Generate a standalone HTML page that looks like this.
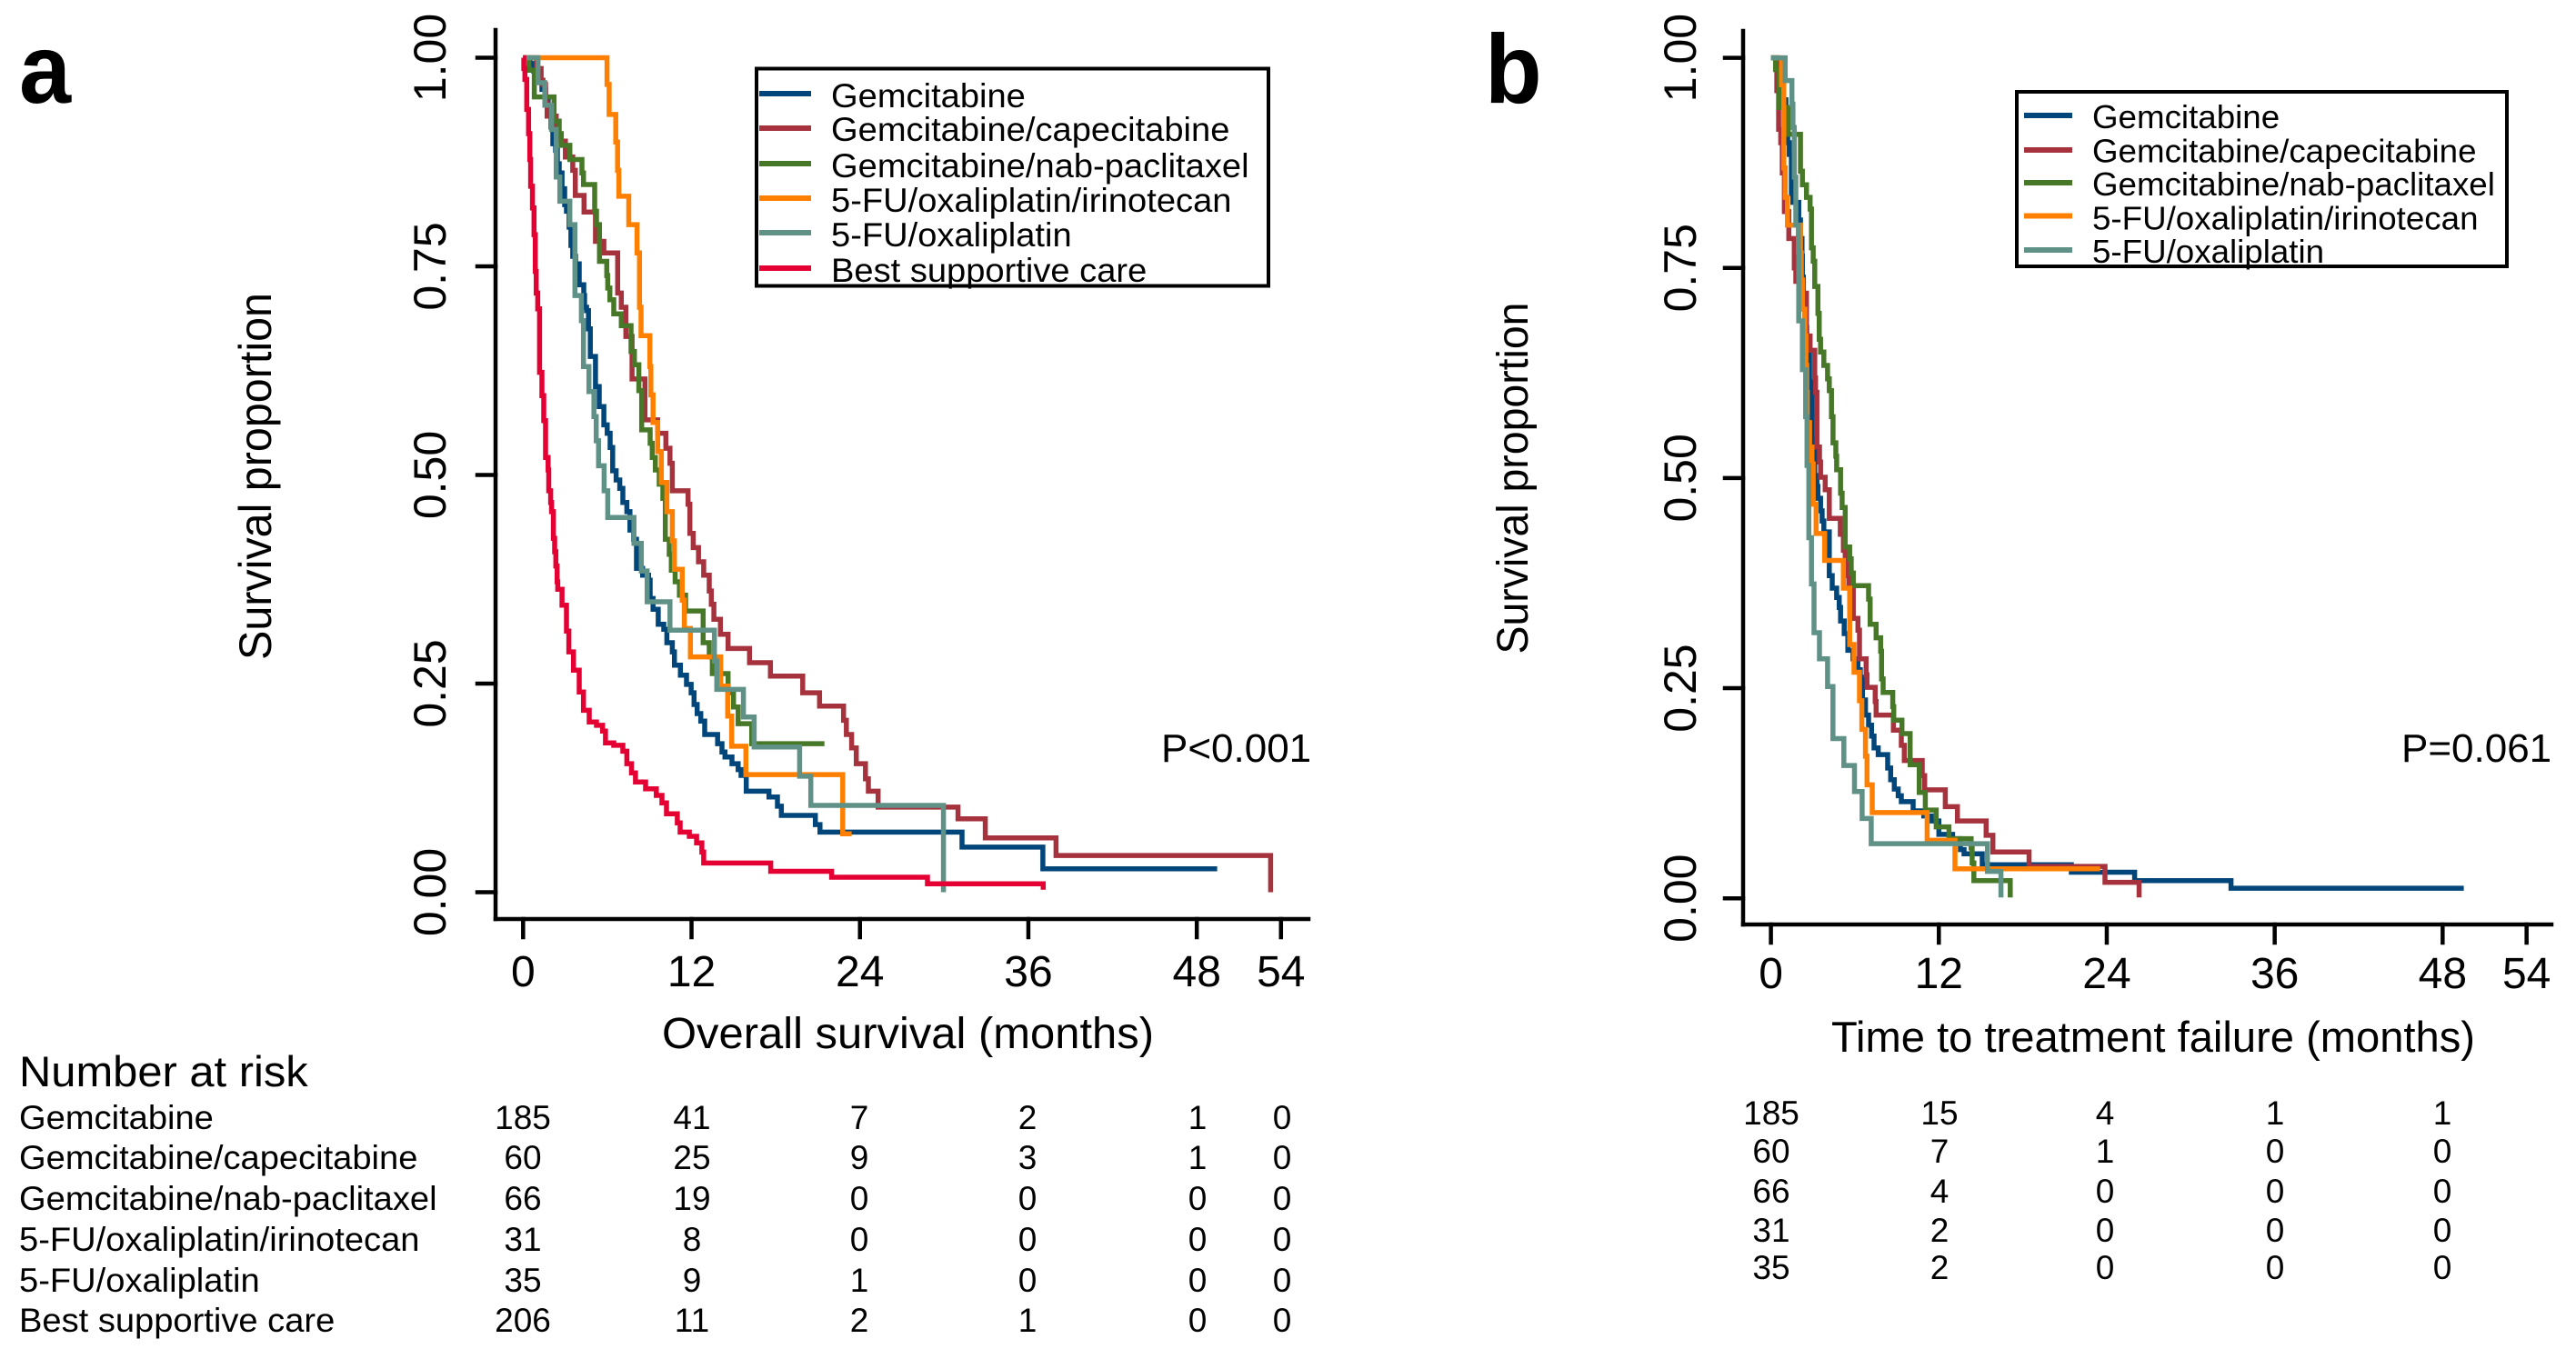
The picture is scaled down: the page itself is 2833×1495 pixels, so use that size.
<!DOCTYPE html>
<html lang="en">
<head>
<meta charset="utf-8">
<title>Kaplan-Meier survival curves</title>
<style>
html,body{margin:0;padding:0;background:#fff;}
svg{display:block;}
text{font-family:"Liberation Sans",Arial,sans-serif;fill:#000;}
</style>
</head>
<body>
<svg id="figure" xmlns="http://www.w3.org/2000/svg" width="2833" height="1495" viewBox="0 0 2833 1495">
  <rect x="0" y="0" width="2833" height="1495" fill="#fff"/>
  <g id="panelA"></g>
  <g id="panelB"></g>

  <text transform="translate(21,113) scale(0.95,1)" font-size="108" font-weight="bold">a</text>
  <text transform="translate(1633,113) scale(0.95,1)" font-size="108" font-weight="bold">b</text>

  <text transform="translate(298,524) rotate(-90)" font-size="50" text-anchor="middle" textLength="404" lengthAdjust="spacingAndGlyphs">Survival proportion</text>
  <text transform="translate(1680,526) rotate(-90)" font-size="48" text-anchor="middle" textLength="387" lengthAdjust="spacingAndGlyphs">Survival proportion</text>
  <text x="728" y="1153" font-size="48" textLength="541" lengthAdjust="spacingAndGlyphs">Overall survival (months)</text>
  <text x="2014" y="1157" font-size="47" textLength="708" lengthAdjust="spacingAndGlyphs">Time to treatment failure (months)</text>
  <text x="1277" y="838" font-size="44">P&lt;0.001</text>
  <text x="2641" y="838" font-size="44">P=0.061</text>

  <g>
    <rect x="832" y="75.5" width="563" height="239" fill="none" stroke="#000" stroke-width="4"/>
    <line x1="835" x2="892" y1="103" y2="103" stroke="#00467a" stroke-width="6"/>
    <line x1="835" x2="892" y1="141" y2="141" stroke="#a5323c" stroke-width="6"/>
    <line x1="835" x2="892" y1="180" y2="180" stroke="#467828" stroke-width="6"/>
    <line x1="835" x2="892" y1="218" y2="218" stroke="#ff8000" stroke-width="6"/>
    <line x1="835" x2="892" y1="256" y2="256" stroke="#5f9187" stroke-width="6"/>
    <line x1="835" x2="892" y1="295" y2="295" stroke="#e40032" stroke-width="6"/>
    <text transform="translate(914,118) scale(1.03,1)" font-size="37">Gemcitabine</text>
    <text transform="translate(914,155) scale(1.03,1)" font-size="37">Gemcitabine/capecitabine</text>
    <text transform="translate(914,195) scale(1.03,1)" font-size="37">Gemcitabine/nab-paclitaxel</text>
    <text transform="translate(914,233) scale(1.03,1)" font-size="37">5-FU/oxaliplatin/irinotecan</text>
    <text transform="translate(914,271) scale(1.03,1)" font-size="37">5-FU/oxaliplatin</text>
    <text transform="translate(914,310) scale(1.03,1)" font-size="37">Best supportive care</text>
  </g>

  <g>
    <rect x="2218" y="101" width="539" height="192" fill="none" stroke="#000" stroke-width="4"/>
    <line x1="2226" x2="2279" y1="127" y2="127" stroke="#00467a" stroke-width="6"/>
    <line x1="2226" x2="2279" y1="165" y2="165" stroke="#a5323c" stroke-width="6"/>
    <line x1="2226" x2="2279" y1="201" y2="201" stroke="#467828" stroke-width="6"/>
    <line x1="2226" x2="2279" y1="237.5" y2="237.5" stroke="#ff8000" stroke-width="6"/>
    <line x1="2226" x2="2279" y1="275" y2="275" stroke="#5f9187" stroke-width="6"/>
    <text transform="translate(2301,141) scale(1.02,1)" font-size="36">Gemcitabine</text>
    <text transform="translate(2301,178.5) scale(1.02,1)" font-size="36">Gemcitabine/capecitabine</text>
    <text transform="translate(2301,215) scale(1.02,1)" font-size="36">Gemcitabine/nab-paclitaxel</text>
    <text transform="translate(2301,252.5) scale(1.02,1)" font-size="36">5-FU/oxaliplatin/irinotecan</text>
    <text transform="translate(2301,289) scale(1.02,1)" font-size="36">5-FU/oxaliplatin</text>
  </g>

  <g>
    <text transform="translate(21,1195) scale(1.04,1)" font-size="47">Number at risk</text>
    <text transform="translate(21,1242) scale(1.03,1)" font-size="37">Gemcitabine</text>
    <text transform="translate(21,1286) scale(1.03,1)" font-size="37">Gemcitabine/capecitabine</text>
    <text transform="translate(21,1331) scale(1.03,1)" font-size="37">Gemcitabine/nab-paclitaxel</text>
    <text transform="translate(21,1376) scale(1.03,1)" font-size="37">5-FU/oxaliplatin/irinotecan</text>
    <text transform="translate(21,1421) scale(1.03,1)" font-size="37">5-FU/oxaliplatin</text>
    <text transform="translate(21,1465) scale(1.03,1)" font-size="37">Best supportive care</text>
  </g>
  <g id="riskA"></g>
  <g id="riskB"></g>
</svg>

<script>
// ---------- axis tick values ----------
const xTicks = [0, 12, 24, 36, 48, 54];
const xTickLabels = ['0', '12', '24', '36', '48', '54'];
const yTicks = [1, 0.75, 0.5, 0.25, 0];
const yTickLabels = ['1.00', '0.75', '0.50', '0.25', '0.00'];

// ---------- panel a: overall survival (months at each drop, survival after the drop) ----------
const gemTimeA = [0.50,0.76,1.08,1.34,1.60,1.79,1.99,2.12,2.31,2.44,2.57,2.77,2.96,3.09,3.28,3.41,3.54,3.74,4.00,4.32,4.38,4.52,4.66,4.79,5.16,5.42,5.75,5.99,6.20,6.38,6.63,6.89,7.11,7.39,7.61,7.88,8.08,8.51,8.94,9.05,9.26,9.63,10.02,10.24,10.63,10.78,11.21,11.64,11.97,12.18,12.40,12.66,12.94,13.86,14.17,14.38,14.88,15.32,15.53,15.90,17.52,18.12,18.40,20.82,21.15,31.27,37.03];
const gemSurvA = [0.993,0.984,0.971,0.962,0.949,0.933,0.917,0.897,0.889,0.873,0.862,0.843,0.824,0.816,0.797,0.775,0.762,0.753,0.728,0.715,0.701,0.697,0.675,0.642,0.606,0.582,0.560,0.550,0.533,0.505,0.494,0.484,0.467,0.456,0.434,0.423,0.388,0.380,0.374,0.352,0.339,0.321,0.315,0.299,0.288,0.272,0.260,0.249,0.239,0.225,0.214,0.205,0.189,0.178,0.168,0.162,0.154,0.147,0.140,0.121,0.114,0.103,0.092,0.081,0.072,0.054,0.028];
const gemEndA = 49.45;

const capTimeA = [0.95,1.28,1.41,1.60,1.71,2.36,2.51,2.70,3.01,3.54,3.72,4.34,5.16,5.75,6.74,7.00,7.32,7.76,8.68,9.59,10.17,10.46,10.63,11.75,11.88,12.12,12.50,12.87,13.26,13.41,13.59,14.06,14.60,16.13,17.62,19.92,21.12,22.83,23.03,23.41,23.74,24.39,24.60,25.29,30.99,32.93,37.97,53.26];
const capSurvA = [0.987,0.973,0.968,0.946,0.930,0.917,0.906,0.900,0.881,0.865,0.835,0.815,0.780,0.766,0.718,0.701,0.666,0.615,0.566,0.550,0.532,0.514,0.481,0.465,0.430,0.413,0.396,0.380,0.361,0.345,0.327,0.309,0.292,0.275,0.259,0.239,0.223,0.206,0.189,0.173,0.154,0.136,0.121,0.102,0.088,0.065,0.044,0];
const capEndA = 53.26;

const nabTimeA = [0.41,0.80,2.20,2.57,2.72,3.33,4.19,4.30,5.10,5.23,5.44,5.96,6.03,6.18,6.46,7.00,7.69,7.93,8.25,8.45,9.05,9.20,9.42,9.70,9.96,10.13,10.41,10.56,10.83,11.14,11.58,12.83,13.26,13.48,14.60,14.99,15.32,16.29];
const nabSurvA = [0.985,0.953,0.924,0.909,0.895,0.878,0.862,0.848,0.816,0.800,0.756,0.739,0.724,0.710,0.693,0.679,0.648,0.632,0.601,0.554,0.538,0.521,0.506,0.489,0.472,0.423,0.405,0.386,0.372,0.356,0.337,0.299,0.282,0.262,0.239,0.222,0.202,0.178];
const nabEndA = 21.47;

const firTimeA = [5.98,6.13,6.60,6.73,6.82,7.53,8.12,8.29,8.40,9.03,9.10,9.26,9.59,9.85,10.24,10.63,10.78,11.34,11.49,11.92,14.08,14.58,14.86,15.87,22.77];
const firSurvA = [0.968,0.932,0.899,0.865,0.834,0.800,0.766,0.701,0.667,0.630,0.596,0.563,0.528,0.491,0.456,0.421,0.387,0.350,0.316,0.282,0.247,0.211,0.175,0.141,0.070];
const firEndA = 23.41;

const foxTimeA = [1.06,1.55,2.03,2.36,2.62,3.33,3.69,4.15,4.30,4.69,5.05,5.21,5.38,5.77,6.03,7.90,8.42,8.84,10.46,13.63,13.80,15.70,16.46,19.70,20.50,29.95];
const foxSurvA = [0.970,0.943,0.914,0.857,0.828,0.800,0.715,0.685,0.630,0.600,0.570,0.541,0.511,0.481,0.449,0.418,0.385,0.348,0.314,0.277,0.243,0.210,0.174,0.139,0.104,0];
const foxEndA = 29.95;

const bscTimeA = [0.05,0.13,0.26,0.39,0.48,0.54,0.67,0.78,0.87,0.93,1.04,1.17,1.34,1.47,1.60,1.78,1.83,1.96,2.03,2.16,2.25,2.33,2.42,2.47,2.77,3.09,3.26,3.59,4.00,4.30,4.71,5.23,5.66,5.87,6.46,7.11,7.39,7.72,8.01,8.73,9.49,9.89,10.22,10.99,11.19,11.84,12.36,12.74,12.87,17.64,21.98,28.81,37.06];
const bscSurvA = [0.987,0.974,0.938,0.909,0.878,0.846,0.820,0.788,0.744,0.718,0.699,0.623,0.595,0.565,0.521,0.506,0.481,0.467,0.456,0.424,0.408,0.391,0.372,0.363,0.344,0.313,0.288,0.266,0.240,0.218,0.204,0.200,0.193,0.179,0.176,0.169,0.154,0.143,0.132,0.124,0.116,0.107,0.094,0.083,0.072,0.067,0.059,0.048,0.035,0.025,0.018,0.010,0.003];
const bscEndA = 37.06;

// ---------- panel b: time to treatment failure ----------
const gemTimeB = [0.48,0.81,1.07,1.20,1.31,1.46,1.57,1.99,2.11,2.22,2.25,2.32,2.43,2.56,2.76,2.87,2.93,3.02,3.13,3.29,3.36,3.55,3.66,3.78,4.17,4.38,4.70,4.88,4.98,5.24,5.50,5.87,6.22,6.39,6.54,6.76,6.98,7.19,7.37,7.67,8.34,8.56,8.82,9.10,9.32,10.16,10.92,11.46,12.00,12.98,13.54,13.80,15.10,21.47,25.99,32.88];
const gemSurvB = [0.977,0.950,0.921,0.899,0.885,0.838,0.828,0.807,0.785,0.764,0.739,0.704,0.679,0.650,0.615,0.598,0.546,0.531,0.503,0.490,0.476,0.461,0.449,0.436,0.384,0.369,0.358,0.346,0.330,0.315,0.295,0.285,0.272,0.263,0.236,0.218,0.206,0.193,0.179,0.171,0.155,0.141,0.130,0.122,0.115,0.104,0.098,0.092,0.076,0.071,0.058,0.053,0.040,0.031,0.021,0.012];
const gemEndB = 49.51;

const capTimeB = [0.42,0.55,0.70,0.81,0.96,1.28,1.67,1.78,2.32,2.54,2.80,3.13,3.19,3.29,3.47,3.55,3.88,4.17,4.96,5.18,5.31,5.46,5.57,5.89,6.22,6.33,6.80,6.87,7.45,7.52,8.75,9.32,9.53,10.81,10.99,12.46,13.33,15.38,15.86,18.45,23.87,26.31];
const capSurvB = [0.961,0.915,0.899,0.863,0.817,0.785,0.750,0.734,0.720,0.669,0.652,0.619,0.602,0.537,0.519,0.501,0.486,0.452,0.433,0.414,0.400,0.384,0.373,0.333,0.319,0.285,0.266,0.251,0.234,0.218,0.200,0.182,0.164,0.146,0.129,0.109,0.092,0.075,0.055,0.038,0.019,0.001];
const capEndB = 26.31;

const nabTimeB = [0.33,0.59,1.24,2.11,2.25,2.54,2.80,2.90,3.02,3.13,3.36,3.45,3.55,3.78,4.05,4.17,4.33,4.44,4.64,4.70,4.98,5.09,5.31,5.63,5.74,5.89,6.98,7.09,7.52,7.84,7.91,8.02,8.71,8.78,9.36,9.95,10.60,11.03,11.81,12.72,14.31,14.38,14.50,17.10];
const nabSurvB = [0.986,0.941,0.909,0.865,0.849,0.834,0.820,0.774,0.758,0.728,0.696,0.665,0.650,0.634,0.618,0.604,0.573,0.542,0.526,0.510,0.482,0.465,0.418,0.404,0.387,0.372,0.356,0.326,0.310,0.294,0.261,0.245,0.228,0.212,0.196,0.159,0.126,0.105,0.085,0.071,0.060,0.042,0.021,0.001];
const nabEndB = 17.10;

const firTimeB = [0.76,0.92,1.02,1.18,2.11,2.17,2.25,2.43,2.50,2.56,2.60,2.76,2.93,3.02,3.23,3.84,5.18,5.63,5.94,6.33,6.50,6.76,6.87,7.24,11.16,13.15];
const firSurvB = [0.968,0.869,0.834,0.801,0.768,0.736,0.701,0.669,0.634,0.602,0.566,0.537,0.517,0.469,0.434,0.402,0.369,0.302,0.269,0.235,0.201,0.169,0.135,0.102,0.069,0.035];
const firEndB = 23.52;

const foxTimeB = [1.02,1.50,1.57,1.67,1.78,1.96,1.99,2.25,2.48,2.58,2.71,2.90,3.08,3.47,4.05,4.43,5.21,5.97,6.52,7.17,15.47,16.44];
const foxSurvB = [0.973,0.945,0.917,0.858,0.801,0.769,0.687,0.629,0.573,0.515,0.429,0.374,0.316,0.285,0.252,0.190,0.158,0.127,0.095,0.065,0.032,0.001];
const foxEndB = 16.44;

// ---------- numbers at risk ----------
const riskGemA = [185, 41, 7, 2, 1, 0];
const riskCapA = [60, 25, 9, 3, 1, 0];
const riskNabA = [66, 19, 0, 0, 0, 0];
const riskFirA = [31, 8, 0, 0, 0, 0];
const riskFoxA = [35, 9, 1, 0, 0, 0];
const riskBscA = [206, 11, 2, 1, 0, 0];
const riskGemB = [185, 15, 4, 1, 1];
const riskCapB = [60, 7, 1, 0, 0];
const riskNabB = [66, 4, 0, 0, 0];
const riskFirB = [31, 2, 0, 0, 0];
const riskFoxB = [35, 2, 0, 0, 0];

const SVGNS = 'http://www.w3.org/2000/svg';

// axis scale functions
function xA(t) { return 575.3 + 15.435 * t; }
function yA(s) { return 981.5 - 918 * s; }
function xB(t) { return 1947.6 + 15.39 * t; }
function yB(s) { return 988.2 - 924.6 * s; }

function drawLine(parent, x1, y1, x2, y2, name, width) {
  const el = document.createElementNS(SVGNS, 'line');
  el.setAttribute('x1', x1);
  el.setAttribute('y1', y1);
  el.setAttribute('x2', x2);
  el.setAttribute('y2', y2);
  el.setAttribute('stroke', '#000');
  el.setAttribute('stroke-width', width);
  el.setAttribute('stroke-linecap', 'square');
  
  
  parent.appendChild(el);
}

function drawText(parent, label, x, y, size, name, rotate) {
  const el = document.createElementNS(SVGNS, 'text');
  el.textContent = label;
  el.setAttribute('font-size', size);
  el.setAttribute('text-anchor', 'middle');
  el.setAttribute('transform', 'translate(' + x + ',' + y + ')' + (rotate ? ' rotate(-90)' : ''));
  
  
  parent.appendChild(el);
}

function drawAxes(parent, sx, sy, axisX, axisY, axisTop, axisRight, yLabelX, xLabelY, suffix) {
  drawLine(parent, axisX, axisTop, axisX, axisY, 'y-axis-line-' + suffix, 4.5);
  drawLine(parent, axisX, axisY, axisRight, axisY, 'x-axis-line-' + suffix, 4.5);
  xTicks.forEach(function (v, i) {
    drawLine(parent, sx(v), axisY, sx(v), axisY + 20, 'x-tick-' + suffix + '-' + v, 4.5);
    drawText(parent, xTickLabels[i], sx(v), xLabelY, 48, 'x-tick-label-' + suffix + '-' + v, false);
  });
  yTicks.forEach(function (v, i) {
    drawLine(parent, axisX - 20, sy(v), axisX, sy(v), 'y-tick-' + suffix + '-' + i, 4.5);
    drawText(parent, yTickLabels[i], yLabelX, sy(v), 50, 'y-tick-label-' + suffix + '-' + i, true);
  });
}

function drawCurve(parent, sx, sy, times, surv, end, color, name) {
  let d = 'M' + sx(0).toFixed(1) + ' ' + sy(1).toFixed(1);
  for (let i = 0; i < times.length; i++) {
    d += 'H' + sx(times[i]).toFixed(1) + 'V' + sy(surv[i]).toFixed(1);
  }
  d += 'H' + sx(end).toFixed(1);
  const el = document.createElementNS(SVGNS, 'path');
  el.setAttribute('d', d);
  el.setAttribute('fill', 'none');
  el.setAttribute('stroke', color);
  el.setAttribute('stroke-width', 5.5);
  el.setAttribute('stroke-linejoin', 'miter');
  
  
  parent.appendChild(el);
}

function drawRisk(parent, rows, baselines, columns, size, suffix) {
  rows.forEach(function (row, r) {
    row.forEach(function (v, c) {
      drawText(parent, String(v), columns[c], baselines[r], size, 'risk-value-' + suffix + '-r' + r + '-c' + c, false);
    });
  });
}

const panelA = document.getElementById('panelA');
const panelB = document.getElementById('panelB');

drawAxes(panelA, xA, yA, 545, 1011, 33, 1439, 490, 1085, 'a');
drawAxes(panelB, xB, yB, 1917, 1017, 34, 2806, 1865, 1087, 'b');

drawCurve(panelA, xA, yA, gemTimeA, gemSurvA, gemEndA, '#00467a', 'curve-a-gemcitabine');
drawCurve(panelA, xA, yA, capTimeA, capSurvA, capEndA, '#a5323c', 'curve-a-gemcitabine-capecitabine');
drawCurve(panelA, xA, yA, nabTimeA, nabSurvA, nabEndA, '#467828', 'curve-a-gemcitabine-nab-paclitaxel');
drawCurve(panelA, xA, yA, firTimeA, firSurvA, firEndA, '#ff8000', 'curve-a-5fu-oxaliplatin-irinotecan');
drawCurve(panelA, xA, yA, foxTimeA, foxSurvA, foxEndA, '#5f9187', 'curve-a-5fu-oxaliplatin');
drawCurve(panelA, xA, yA, bscTimeA, bscSurvA, bscEndA, '#e40032', 'curve-a-best-supportive-care');

drawCurve(panelB, xB, yB, gemTimeB, gemSurvB, gemEndB, '#00467a', 'curve-b-gemcitabine');
drawCurve(panelB, xB, yB, capTimeB, capSurvB, capEndB, '#a5323c', 'curve-b-gemcitabine-capecitabine');
drawCurve(panelB, xB, yB, nabTimeB, nabSurvB, nabEndB, '#467828', 'curve-b-gemcitabine-nab-paclitaxel');
drawCurve(panelB, xB, yB, firTimeB, firSurvB, firEndB, '#ff8000', 'curve-b-5fu-oxaliplatin-irinotecan');
drawCurve(panelB, xB, yB, foxTimeB, foxSurvB, foxEndB, '#5f9187', 'curve-b-5fu-oxaliplatin');

drawRisk(document.getElementById('riskA'),
  [riskGemA, riskCapA, riskNabA, riskFirA, riskFoxA, riskBscA],
  [1242, 1286, 1331, 1376, 1421, 1465],
  [575, 761, 945, 1130, 1317, 1410], 37, 'a');
drawRisk(document.getElementById('riskB'),
  [riskGemB, riskCapB, riskNabB, riskFirB, riskFoxB],
  [1237, 1279, 1323, 1366, 1407],
  [1948, 2133, 2315, 2502, 2686], 37, 'b');
</script>
</body>
</html>
